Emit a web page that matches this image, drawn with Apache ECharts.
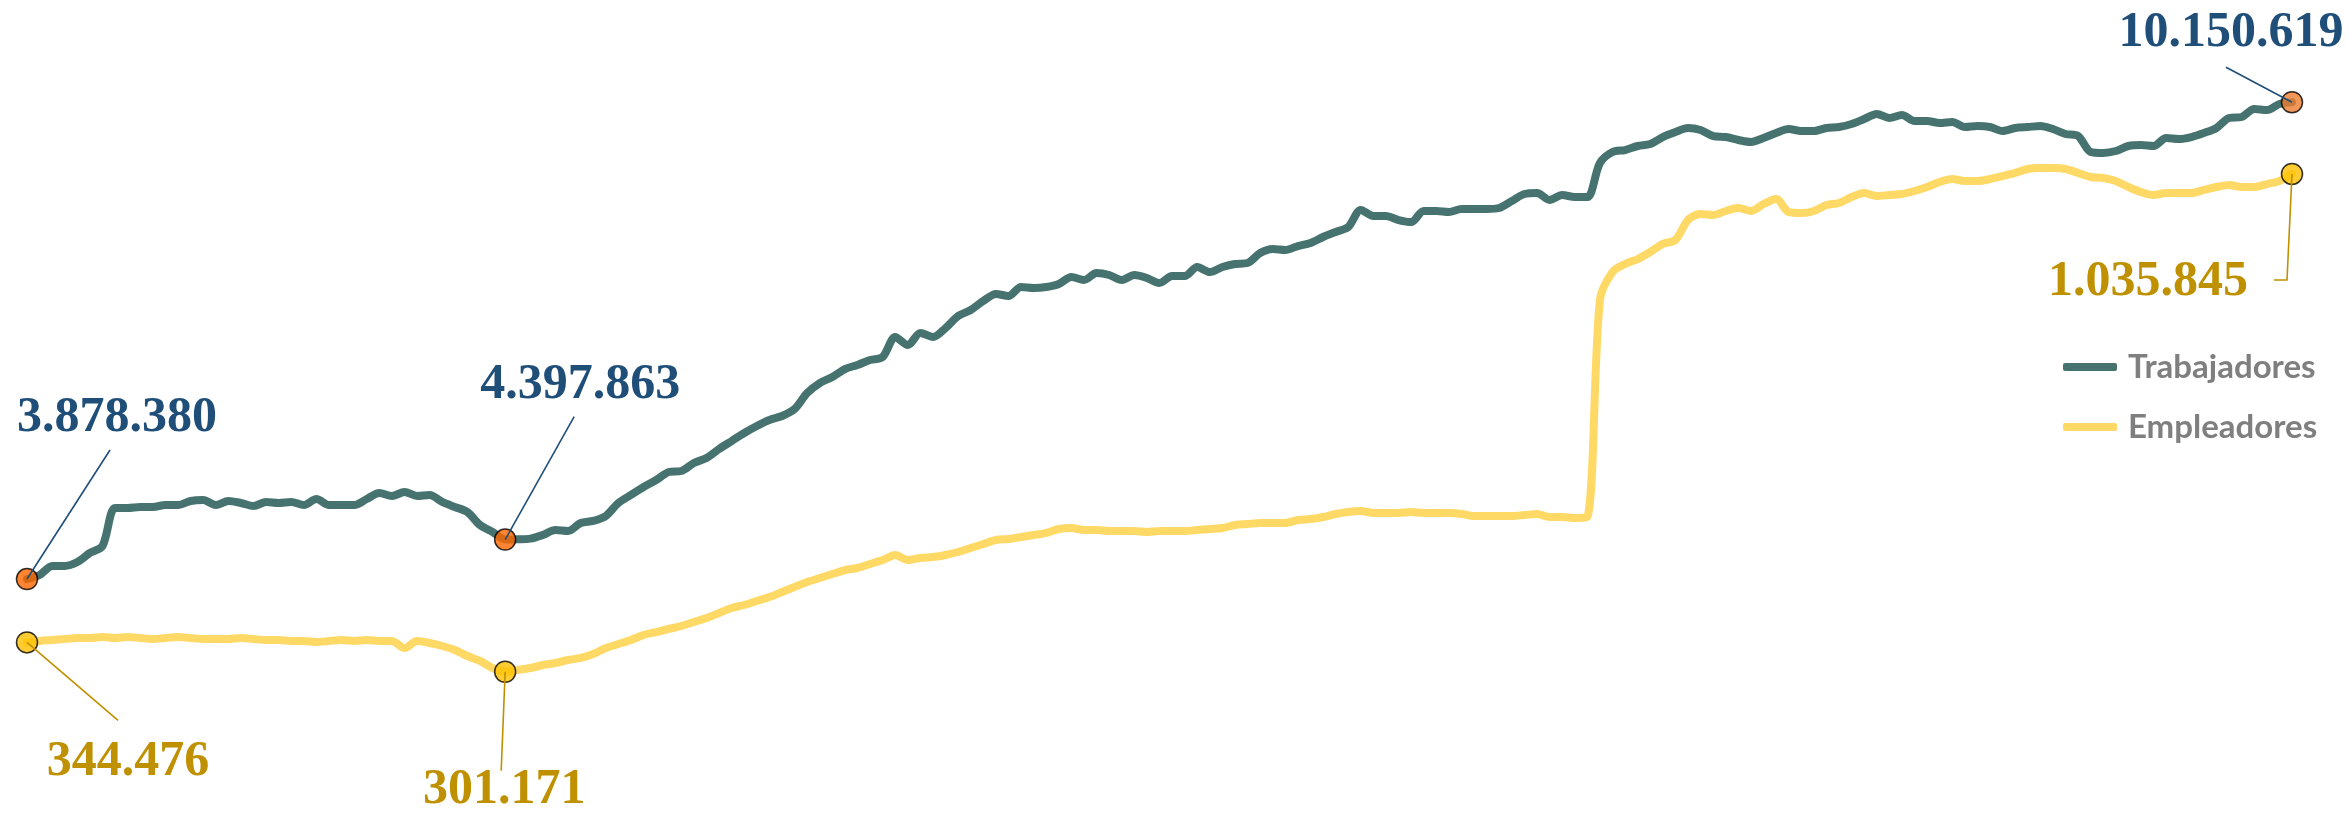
<!DOCTYPE html>
<html>
<head>
<meta charset="utf-8">
<script src="https://cdn.jsdelivr.net/npm/echarts@6/dist/echarts.min.js"></script>
<style>
html,body{margin:0;padding:0;background:#ffffff;}
#c{width:2349px;height:818px;}
</style>
</head>
<body>
<div id="c"></div>
<script>
// Monthly periods (axis is hidden in the reference)
const periods = [];
for (let n = 0; n < 181; n++) {
  const y = 2009 + Math.floor(n / 12), m = (n % 12) + 1;
  periods.push(y + '-' + (m < 10 ? '0' + m : m));
}

const trabajadores = [
  3878380, 3931000, 4050000, 4050000, 4102000, 4221000, 4313000, 4813000, 4813000, 4826000,
  4826000, 4852000, 4852000, 4905000, 4918000, 4852000, 4905000, 4879000, 4839000, 4892000,
  4879000, 4892000, 4852000, 4931000, 4852000, 4852000, 4852000, 4931000, 5010000, 4971000,
  5023000, 4971000, 4984000, 4892000, 4826000, 4760000, 4589000, 4497000, 4397863, 4402000,
  4410000, 4458000, 4523000, 4510000, 4615000, 4642000, 4708000, 4879000, 4984000, 5089000,
  5181000, 5286000, 5300000, 5405000, 5470000, 5589000, 5694000, 5799000, 5892000, 5970000,
  6023000, 6115000, 6326000, 6457000, 6536000, 6641000, 6694000, 6760000, 6799000, 7062000,
  6957000, 7115000, 7062000, 7181000, 7339000, 7417000, 7536000, 7628000, 7602000, 7720000,
  7707000, 7720000, 7760000, 7852000, 7812000, 7904000, 7878000, 7812000, 7878000, 7838000,
  7773000, 7865000, 7865000, 7983000, 7917000, 7983000, 8023000, 8036000, 8167000, 8220000,
  8207000, 8259000, 8299000, 8378000, 8444000, 8509000, 8733000, 8654000, 8654000, 8601000,
  8575000, 8720000, 8720000, 8707000, 8746000, 8746000, 8746000, 8759000, 8851000, 8943000,
  8957000, 8865000, 8930000, 8904000, 8904000, 9351000, 9496000, 9522000, 9575000, 9601000,
  9693000, 9759000, 9812000, 9785000, 9706000, 9693000, 9654000, 9627000, 9680000, 9746000,
  9798000, 9772000, 9772000, 9812000, 9825000, 9864000, 9930000, 9996000, 9943000, 9983000,
  9904000, 9904000, 9877000, 9891000, 9825000, 9838000, 9825000, 9772000, 9812000, 9825000,
  9838000, 9798000, 9733000, 9706000, 9496000, 9483000, 9509000, 9575000, 9588000, 9575000,
  9680000, 9667000, 9693000, 9746000, 9812000, 9943000, 9956000, 10062000, 10048000, 10127000,
  10150619
];

const empleadores = [
  344476, 346600, 348000, 349500, 351000, 351000, 352500, 351000, 352500, 351000,
  349500, 351000, 352500, 351000, 349500, 349500, 349500, 351000, 349500, 348000,
  348000, 346600, 346600, 345100, 346600, 348000, 346600, 348000, 346600, 346600,
  336200, 346600, 343600, 339200, 333300, 324400, 317100, 306700, 301171, 303800,
  306700, 311100, 314100, 318500, 321500, 327400, 336200, 342100, 348000, 355400,
  359800, 364300, 368700, 374600, 380500, 387900, 395300, 399700, 405600, 411500,
  418900, 426300, 433600, 439500, 445400, 451300, 454300, 460200, 466100, 473500,
  466100, 469100, 470500, 473500, 477900, 483800, 489700, 495600, 497100, 500000,
  503000, 506000, 511900, 513300, 510400, 510400, 508900, 508900, 508900, 507400,
  508900, 508900, 508900, 510400, 511900, 513300, 517800, 519200, 520700, 520700,
  520700, 525100, 526600, 529600, 534000, 536900, 538400, 535500, 535500, 535500,
  536900, 535500, 535500, 535500, 534000, 531000, 531000, 531000, 531000, 532500,
  534000, 529600, 529600, 528100, 529600, 849800, 891200, 903000, 910300, 920700,
  932500, 938400, 967900, 976800, 975300, 981200, 985600, 981200, 991500, 998900,
  979700, 978200, 981200, 990000, 993000, 1001800, 1007700, 1003300, 1004800, 1006300,
  1010700, 1016600, 1024000, 1028400, 1025500, 1025500, 1028400, 1032800, 1037300, 1043200,
  1044600, 1044600, 1043200, 1037300, 1031400, 1029900, 1025500, 1016600, 1009200, 1004800,
  1007700, 1007700, 1007700, 1012200, 1016600, 1019600, 1016600, 1016600, 1021000, 1025500,
  1035845
];

// Highlighted points (start, minimum, last)
const markIdx = [0, 38, 180];

const GREEN = '#46736F', YELLOW = '#FFD966';
const BLUE_TXT = '#1F4E79', GOLD_TXT = '#BF9000';
const trabMarkColors = ['#FF6600', '#FF6600', '#ED7D31'];

const chart = echarts.init(document.getElementById('c'));

chart.setOption({
  animation: false,
  backgroundColor: '#ffffff',
  grid: { left: 27, right: 57, top: 100, bottom: 138 },
  xAxis: { type: 'category', data: periods, boundaryGap: false, show: false },
  yAxis: [
    { type: 'value', min: 2550000, max: 10180000, show: false },
    { type: 'value', min: 289000, max: 1145000, show: false }
  ],
  legend: {
    data: ['Trabajadores', 'Empleadores'],
    orient: 'vertical',
    left: 2058, top: 345,
    icon: 'roundRect',
    itemWidth: 54, itemHeight: 8, itemGap: 26,
    textStyle: { fontFamily: 'Lato', fontWeight: 'bold', fontSize: 33, color: '#7F7F7F', lineHeight: 34, padding: [0, 0, 0, 6] }
  },
  series: [
    {
      name: 'Trabajadores', type: 'line', yAxisIndex: 0, data: trabajadores,
      symbol: 'none', smooth: 0.3, z: 3,
      lineStyle: { color: GREEN, width: 8, cap: 'round', join: 'round' },
      itemStyle: { color: GREEN }
    },
    {
      name: 'Empleadores', type: 'line', yAxisIndex: 1, data: empleadores,
      symbol: 'none', smooth: 0.3, z: 2,
      lineStyle: { color: YELLOW, width: 8, cap: 'round', join: 'round' },
      itemStyle: { color: YELLOW }
    },
    {
      type: 'scatter', yAxisIndex: 0, z: 5, symbolSize: 21,
      data: markIdx.map((i, k) => ({ value: [i, trabajadores[i]], itemStyle: { color: trabMarkColors[k] } })),
      itemStyle: { borderColor: '#000', borderWidth: 1.5 }
    },
    {
      type: 'scatter', yAxisIndex: 1, z: 5, symbolSize: 21,
      data: markIdx.map(i => [i, empleadores[i]]),
      itemStyle: { color: '#FFC000', borderColor: '#000', borderWidth: 1.5 }
    }
  ]
});

// Annotations: label offsets and leader-line bends relative to each marker (pixels)
const annotations = [
  { s: 0, i: 0,   dx: 90,   dy: -161, bend: [[83, -129]] },
  { s: 0, i: 38,  dx: 75,   dy: -154, bend: [[69, -123]] },
  { s: 0, i: 180, dx: -61,  dy: -69,  bend: [[-66, -35]] },
  { s: 1, i: 0,   dx: 101,  dy: 120,  bend: [[91, 78]] },
  { s: 1, i: 38,  dx: -1,   dy: 118,  bend: [[-4, 99]] },
  { s: 1, i: 180, dx: -144, dy: 108,  bend: [[-5, 106], [-18, 106]] }
];

function fmt(v) { return String(v).replace(/\B(?=(\d{3})+(?!\d))/g, '.'); }

const graphics = [];
annotations.forEach(a => {
  const arr = a.s === 0 ? trabajadores : empleadores;
  const col = a.s === 0 ? BLUE_TXT : GOLD_TXT;
  const p = chart.convertToPixel({ seriesIndex: a.s }, [a.i, arr[a.i]]);
  const pts = [[p[0], p[1]]].concat(a.bend.map(o => [p[0] + o[0], p[1] + o[1]]));
  graphics.push({
    type: 'polyline', z: 20, silent: true,
    shape: { points: pts },
    style: { stroke: col, lineWidth: 1.6, fill: null }
  });
  graphics.push({
    type: 'text', z: 20, silent: true,
    x: p[0] + a.dx, y: p[1] + a.dy,
    style: {
      text: fmt(arr[a.i]), fill: col,
      fontFamily: '"Liberation Serif", "DejaVu Serif", serif', fontWeight: 'bold', fontSize: 50,
      align: 'center', verticalAlign: 'middle'
    }
  });
});
chart.setOption({ graphic: graphics });
</script>
</body>
</html>
